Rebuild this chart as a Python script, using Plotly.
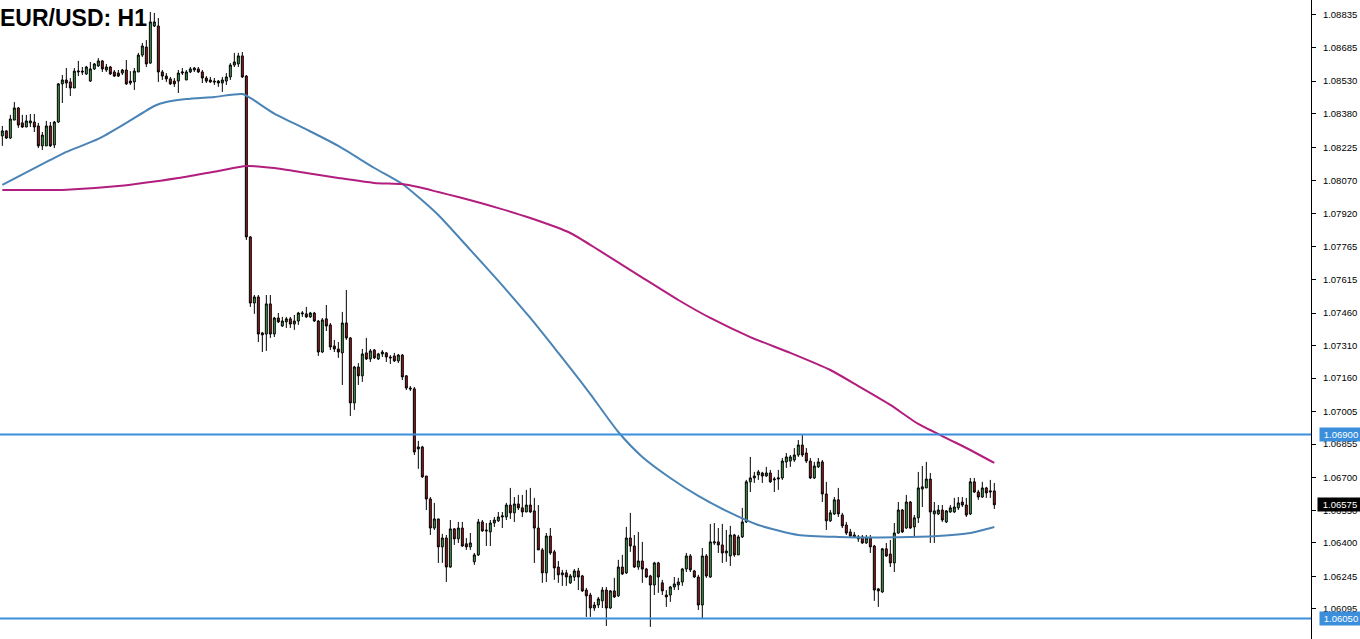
import plotly.graph_objects as go

# ---------------- data (EUR/USD H1 candles) ----------------
opens = [
1.08277,1.08300,1.08267,1.08350,1.08406,1.08337,1.08318,1.08337,1.08341,1.08323,
1.08231,1.08231,1.08323,1.08235,1.08341,1.08517,1.08535,1.08526,1.08498,1.08572,
1.08576,1.08563,1.08530,1.08586,1.08600,1.08623,1.08581,1.08595,1.08572,1.08567,
1.08567,1.08581,1.08530,1.08526,1.08572,1.08650,1.08687,1.08613,1.08784,1.08784,
1.08572,1.08553,1.08540,1.08530,1.08530,1.08567,1.08535,1.08572,1.08581,1.08586,
1.08572,1.08544,1.08535,1.08530,1.08530,1.08521,1.08530,1.08549,1.08604,1.08609,
1.08646,1.08553,1.07811,1.07506,1.07534,1.07368,1.07363,1.07502,1.07363,1.07437,
1.07400,1.07419,1.07433,1.07409,1.07423,1.07456,1.07456,1.07442,1.07460,1.07423,
1.07280,1.07433,1.07405,1.07308,1.07294,1.07276,1.07414,1.07345,1.07045,1.07211,
1.07170,1.07276,1.07248,1.07289,1.07248,1.07271,1.07276,1.07257,1.07262,1.07239,
1.07266,1.07170,1.07114,1.07110,1.06833,1.06842,1.06708,1.06602,1.06468,1.06510,
1.06381,1.06422,1.06288,1.06464,1.06418,1.06468,1.06395,1.06381,1.06312,1.06344,
1.06496,1.06459,1.06450,1.06491,1.06501,1.06519,1.06519,1.06574,1.06538,1.06579,
1.06561,1.06542,1.06574,1.06547,1.06468,1.06367,1.06261,1.06431,1.06358,1.06288,
1.06252,1.06261,1.06215,1.06242,1.06270,1.06247,1.06182,1.06159,1.06099,1.06113,
1.06132,1.06182,1.06099,1.06178,1.06155,1.06288,1.06261,1.06422,1.06385,1.06288,
1.06316,1.06279,1.06247,1.06205,1.06307,1.06215,1.06159,1.06159,1.06196,1.06205,
1.06219,1.06279,1.06339,1.06270,1.06242,1.06113,1.06339,1.06242,1.06399,1.06404,
1.06390,1.06353,1.06339,1.06436,1.06344,1.06427,1.06496,1.06681,1.06699,1.06713,
1.06722,1.06708,1.06722,1.06690,1.06694,1.06699,1.06773,1.06777,1.06782,1.06805,
1.06851,1.06814,1.06777,1.06699,1.06750,1.06773,1.06625,1.06501,1.06533,1.06598,
1.06528,1.06482,1.06450,1.06427,1.06418,1.06427,1.06399,1.06422,1.06385,1.06187,
1.06173,1.06372,1.06348,1.06307,1.06445,1.06551,1.06468,1.06588,1.06473,1.06515,
1.06648,1.06653,1.06694,1.06533,1.06533,1.06551,1.06496,1.06542,1.06542,1.06561,
1.06588,1.06574,1.06533,1.06681,1.06634,1.06611,1.06653,1.06634,1.06639]

highs = [
1.08323,1.08304,1.08374,1.08433,1.08410,1.08374,1.08374,1.08378,1.08378,1.08337,
1.08295,1.08346,1.08341,1.08346,1.08521,1.08558,1.08590,1.08544,1.08590,1.08623,
1.08595,1.08600,1.08618,1.08613,1.08636,1.08627,1.08609,1.08600,1.08581,1.08581,
1.08586,1.08627,1.08576,1.08590,1.08660,1.08706,1.08719,1.08849,1.08844,1.08821,
1.08581,1.08567,1.08549,1.08544,1.08581,1.08590,1.08581,1.08595,1.08595,1.08595,
1.08581,1.08553,1.08549,1.08544,1.08535,1.08549,1.08567,1.08613,1.08660,1.08660,
1.08664,1.08558,1.07815,1.07543,1.07543,1.07373,1.07543,1.07543,1.07442,1.07460,
1.07442,1.07442,1.07442,1.07451,1.07465,1.07469,1.07488,1.07465,1.07465,1.07428,
1.07437,1.07497,1.07414,1.07336,1.07326,1.07465,1.07566,1.07349,1.07216,1.07229,
1.07294,1.07345,1.07294,1.07294,1.07276,1.07289,1.07280,1.07266,1.07276,1.07271,
1.07271,1.07174,1.07123,1.07119,1.06870,1.06847,1.06708,1.06611,1.06584,1.06510,
1.06441,1.06436,1.06505,1.06468,1.06496,1.06496,1.06422,1.06445,1.06353,1.06510,
1.06505,1.06491,1.06505,1.06519,1.06542,1.06542,1.06584,1.06653,1.06611,1.06621,
1.06621,1.06644,1.06653,1.06607,1.06574,1.06376,1.06445,1.06468,1.06367,1.06316,
1.06275,1.06275,1.06256,1.06279,1.06284,1.06252,1.06192,1.06169,1.06127,1.06150,
1.06196,1.06196,1.06182,1.06238,1.06321,1.06344,1.06473,1.06538,1.06436,1.06450,
1.06404,1.06284,1.06252,1.06312,1.06312,1.06229,1.06182,1.06201,1.06242,1.06238,
1.06284,1.06353,1.06348,1.06275,1.06252,1.06376,1.06348,1.06487,1.06491,1.06468,
1.06487,1.06459,1.06478,1.06441,1.06436,1.06561,1.06690,1.06796,1.06727,1.06736,
1.06727,1.06750,1.06736,1.06704,1.06736,1.06791,1.06814,1.06805,1.06837,1.06874,
1.06902,1.06837,1.06791,1.06773,1.06791,1.06782,1.06681,1.06551,1.06611,1.06653,
1.06538,1.06496,1.06464,1.06450,1.06436,1.06436,1.06436,1.06436,1.06390,1.06192,
1.06376,1.06399,1.06413,1.06491,1.06588,1.06556,1.06621,1.06593,1.06528,1.06727,
1.06754,1.06773,1.06722,1.06588,1.06574,1.06574,1.06551,1.06574,1.06607,1.06611,
1.06611,1.06607,1.06699,1.06699,1.06644,1.06681,1.06658,1.06690,1.06676]

lows = [
1.08231,1.08263,1.08263,1.08350,1.08314,1.08314,1.08318,1.08318,1.08295,1.08221,
1.08212,1.08231,1.08226,1.08221,1.08337,1.08429,1.08498,1.08461,1.08498,1.08553,
1.08558,1.08558,1.08526,1.08581,1.08595,1.08572,1.08572,1.08558,1.08549,1.08549,
1.08558,1.08512,1.08512,1.08489,1.08572,1.08641,1.08595,1.08609,1.08779,1.08526,
1.08535,1.08526,1.08512,1.08503,1.08475,1.08558,1.08535,1.08567,1.08572,1.08567,
1.08521,1.08521,1.08521,1.08512,1.08503,1.08480,1.08512,1.08535,1.08595,1.08595,
1.08544,1.07797,1.07488,1.07456,1.07326,1.07280,1.07285,1.07345,1.07349,1.07414,
1.07396,1.07391,1.07391,1.07382,1.07405,1.07442,1.07437,1.07437,1.07419,1.07262,
1.07276,1.07377,1.07289,1.07280,1.07253,1.07128,1.07336,1.06985,1.07013,1.07128,
1.07142,1.07243,1.07234,1.07248,1.07243,1.07257,1.07234,1.07225,1.07234,1.07229,
1.07151,1.07105,1.07100,1.06805,1.06741,1.06699,1.06551,1.06436,1.06459,1.06307,
1.06307,1.06219,1.06284,1.06390,1.06399,1.06381,1.06367,1.06367,1.06298,1.06339,
1.06450,1.06385,1.06385,1.06473,1.06496,1.06468,1.06505,1.06510,1.06496,1.06551,
1.06519,1.06542,1.06538,1.06307,1.06367,1.06215,1.06219,1.06344,1.06229,1.06215,
1.06201,1.06201,1.06210,1.06224,1.06182,1.06173,1.06058,1.06058,1.06086,1.06099,
1.06099,1.06016,1.06095,1.06145,1.06150,1.06252,1.06256,1.06358,1.06284,1.06275,
1.06215,1.06238,1.06012,1.06159,1.06169,1.06159,1.06104,1.06127,1.06182,1.06182,
1.06201,1.06265,1.06265,1.06238,1.06090,1.06053,1.06238,1.06238,1.06390,1.06353,
1.06307,1.06312,1.06293,1.06335,1.06344,1.06422,1.06491,1.06634,1.06676,1.06690,
1.06676,1.06704,1.06676,1.06634,1.06644,1.06690,1.06745,1.06750,1.06773,1.06796,
1.06796,1.06768,1.06694,1.06694,1.06745,1.06588,1.06459,1.06496,1.06528,1.06519,
1.06468,1.06436,1.06427,1.06422,1.06404,1.06395,1.06395,1.06353,1.06132,1.06104,
1.06169,1.06335,1.06288,1.06265,1.06441,1.06445,1.06464,1.06464,1.06422,1.06491,
1.06565,1.06653,1.06399,1.06399,1.06528,1.06496,1.06491,1.06538,1.06538,1.06551,
1.06565,1.06519,1.06528,1.06630,1.06598,1.06607,1.06607,1.06607,1.06556]

closes = [
1.08300,1.08267,1.08355,1.08406,1.08327,1.08318,1.08346,1.08346,1.08318,1.08231,
1.08281,1.08323,1.08231,1.08341,1.08517,1.08535,1.08521,1.08498,1.08576,1.08576,
1.08572,1.08595,1.08586,1.08609,1.08623,1.08586,1.08595,1.08563,1.08553,1.08553,
1.08581,1.08517,1.08521,1.08576,1.08650,1.08692,1.08609,1.08803,1.08803,1.08572,
1.08553,1.08540,1.08517,1.08517,1.08567,1.08572,1.08572,1.08586,1.08590,1.08572,
1.08544,1.08530,1.08526,1.08526,1.08521,1.08535,1.08549,1.08604,1.08618,1.08646,
1.08549,1.07811,1.07506,1.07534,1.07363,1.07359,1.07502,1.07363,1.07437,1.07419,
1.07423,1.07433,1.07409,1.07423,1.07460,1.07460,1.07442,1.07460,1.07423,1.07280,
1.07428,1.07400,1.07303,1.07294,1.07280,1.07414,1.07345,1.07045,1.07211,1.07170,
1.07271,1.07248,1.07285,1.07253,1.07271,1.07280,1.07257,1.07253,1.07239,1.07266,
1.07165,1.07114,1.07110,1.06819,1.06842,1.06704,1.06602,1.06468,1.06510,1.06381,
1.06422,1.06288,1.06464,1.06418,1.06468,1.06385,1.06381,1.06399,1.06344,1.06496,
1.06455,1.06455,1.06491,1.06505,1.06519,1.06524,1.06574,1.06538,1.06579,1.06561,
1.06542,1.06574,1.06542,1.06468,1.06367,1.06261,1.06431,1.06353,1.06284,1.06252,
1.06261,1.06242,1.06247,1.06270,1.06242,1.06178,1.06155,1.06099,1.06113,1.06141,
1.06182,1.06099,1.06178,1.06150,1.06288,1.06256,1.06422,1.06385,1.06288,1.06316,
1.06279,1.06242,1.06205,1.06307,1.06242,1.06178,1.06150,1.06196,1.06210,1.06219,
1.06279,1.06339,1.06275,1.06242,1.06113,1.06339,1.06247,1.06404,1.06404,1.06390,
1.06353,1.06362,1.06436,1.06344,1.06427,1.06496,1.06681,1.06699,1.06708,1.06727,
1.06708,1.06722,1.06681,1.06694,1.06699,1.06777,1.06796,1.06796,1.06805,1.06851,
1.06805,1.06777,1.06699,1.06754,1.06773,1.06625,1.06501,1.06538,1.06598,1.06533,
1.06478,1.06445,1.06431,1.06436,1.06427,1.06399,1.06422,1.06381,1.06182,1.06178,
1.06372,1.06339,1.06307,1.06445,1.06551,1.06450,1.06588,1.06468,1.06515,1.06653,
1.06658,1.06694,1.06542,1.06547,1.06551,1.06505,1.06547,1.06561,1.06565,1.06584,
1.06574,1.06528,1.06681,1.06634,1.06611,1.06653,1.06630,1.06639,1.06575]

# moving averages (sampled along the bars)
ma_fast_idx = [0, 12, 16, 24, 31, 38, 41, 46, 53, 60, 62, 68, 76, 84, 93, 100, 104, 109,
               117, 124, 132, 139, 142, 147, 154, 160, 167, 174, 181, 189, 199, 209, 224,
               234, 242, 248]
ma_fast = [1.08051, 1.08166, 1.08203, 1.08263, 1.08337, 1.08415, 1.08433, 1.08447, 1.08457,
           1.08470, 1.08452, 1.08380, 1.08307, 1.08231, 1.08129, 1.08055, 1.07995, 1.07912,
           1.07751, 1.07608, 1.07437, 1.07276, 1.07206, 1.07086, 1.06911, 1.06796, 1.06699,
           1.06616, 1.06547, 1.06482, 1.06436, 1.06427, 1.06425, 1.06431, 1.06445, 1.06473]

ma_slow_idx = [0, 15, 29, 44, 54, 61, 68, 76, 84, 93, 100, 104, 109, 114, 124, 132, 142,
               149, 159, 169, 177, 187, 197, 207, 214, 222, 229, 237, 242, 248]
ma_slow = [1.08028, 1.08028, 1.08046, 1.08083, 1.08115, 1.08138, 1.08129, 1.08106, 1.08083,
           1.08060, 1.08055, 1.08041, 1.08018, 1.07995, 1.07944, 1.07898, 1.07829, 1.07751,
           1.07635, 1.07520, 1.07437, 1.07349, 1.07276, 1.07197, 1.07123, 1.07036, 1.06948,
           1.06874, 1.06828, 1.06768]

level_lines = [1.06900, 1.06050]
last_price = 1.06575

tick_vals = [1.08835, 1.08685, 1.08530, 1.08380, 1.08225, 1.08070, 1.07920, 1.07765,
             1.07615, 1.07460, 1.07310, 1.07160, 1.07005, 1.06855, 1.06700, 1.06550,
             1.06400, 1.06245, 1.06095]
y_range = [1.05956, 1.08904]
title_text = "EUR/USD: H1"

# ---------------- figure ----------------
idx = list(range(len(closes)))
axis_font = dict(family="Liberation Sans, Arial, sans-serif", size=9.5, color="black")

fig = go.Figure()
fig.add_trace(go.Candlestick(
    x=idx, open=opens, high=highs, low=lows, close=closes,
    increasing=dict(fillcolor="#43A04D", line=dict(color="black", width=1)),
    decreasing=dict(fillcolor="#9C1C1C", line=dict(color="black", width=1)),
    whiskerwidth=0, showlegend=False, hoverinfo="skip"))

fig.add_trace(go.Scatter(x=ma_fast_idx, y=ma_fast, mode="lines",
                         line=dict(color="#4A84B6", width=2, shape="spline", smoothing=0.6),
                         showlegend=False, hoverinfo="skip"))
fig.add_trace(go.Scatter(x=ma_slow_idx, y=ma_slow, mode="lines",
                         line=dict(color="#B11E7E", width=2, shape="spline", smoothing=0.6),
                         showlegend=False, hoverinfo="skip"))

for lv in level_lines:
    fig.add_shape(type="line", xref="paper", x0=0, x1=1, yref="y", y0=lv, y1=lv,
                  line=dict(color="#3A8EDB", width=2), layer="above")
    fig.add_annotation(x=1, xref="paper", y=lv, yref="y", text=f"{lv:.5f}",
                       showarrow=False, xanchor="left", xshift=8, yanchor="middle",
                       font=dict(family=axis_font["family"], size=9.5, color="white"),
                       bgcolor="#3A8EDB", borderpad=1, width=40)

fig.add_annotation(x=1, xref="paper", y=last_price, yref="y", text=f"{last_price:.5f}",
                   showarrow=False, xanchor="left", xshift=6, yanchor="middle",
                   font=dict(family=axis_font["family"], size=9.5, color="white"),
                   bgcolor="black", borderpad=1, width=42)

fig.add_annotation(x=0, xref="paper", y=1, yref="paper", text=f"<b>{title_text}</b>",
                   showarrow=False, xanchor="left", yanchor="top", xshift=-2, yshift=-3,
                   font=dict(family="Liberation Sans, Arial, sans-serif", size=23, color="black"))

fig.update_layout(
    width=1360, height=639,
    margin=dict(l=0, r=49, t=0, b=0),
    paper_bgcolor="white", plot_bgcolor="white",
    showlegend=False,
    xaxis=dict(visible=False, range=[-0.5825, 327.17], rangeslider=dict(visible=False),
               fixedrange=True),
    yaxis=dict(side="right", range=y_range, tickvals=tick_vals,
               ticktext=[f"{v:.5f}" for v in tick_vals],
               showgrid=False, zeroline=False, showline=True, linecolor="black", linewidth=1,
               ticks="outside", ticklen=4, tickcolor="black", tickfont=axis_font,
               ticklabelstandoff=5, automargin=False),
)

fig.write_html("out.html", config={"displayModeBar": False},
               post_script="document.body.style.margin='0';document.body.style.overflow='hidden';")
